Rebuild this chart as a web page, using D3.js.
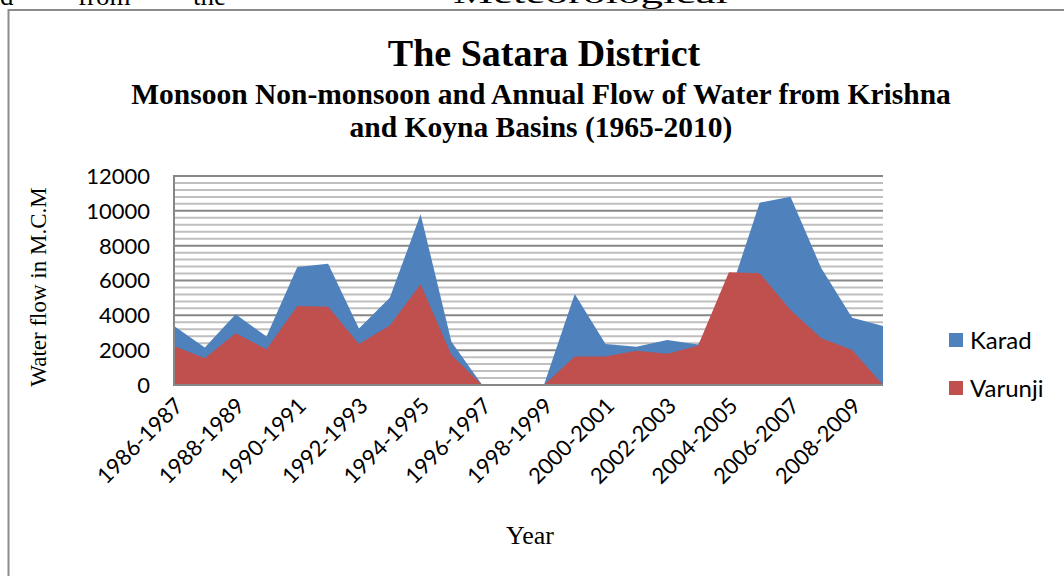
<!DOCTYPE html>
<html>
<head>
<meta charset="utf-8">
<script src="https://cdn.jsdelivr.net/npm/d3@7"></script>
<style>
  body { margin: 0; background: #fff; }
  svg { display: block; }
  .tick-lbl { font-family: Lato, 'Open Sans', sans-serif; font-size: 22px; fill: #000; }
  .serif { font-family: 'Liberation Serif', 'Times New Roman', serif; fill: #000; }
</style>
</head>
<body>
<div id="chart"></div>
<script>
// categories (hydrological years)
const years = ['1986-1987', '1987-1988', '1988-1989', '1989-1990', '1990-1991', '1991-1992',
  '1992-1993', '1993-1994', '1994-1995', '1995-1996', '1996-1997', '1997-1998',
  '1998-1999', '1999-2000', '2000-2001', '2001-2002', '2002-2003', '2003-2004',
  '2004-2005', '2005-2006', '2006-2007', '2007-2008', '2008-2009', '2009-2010']

// water flow in M.C.M
const karad = [3390, 2160, 4060, 2780, 6770, 6960, 3250, 5010, 9810, 2490, 0, 0,
  0, 5220, 2350, 2200, 2580, 2330, 5100, 10470, 10810, 6700, 3860, 3390]
const varunji = [2240, 1530, 2970, 2050, 4530, 4500, 2350, 3410, 5780, 1720, 0, 0,
  0, 1630, 1630, 1970, 1800, 2260, 6470, 6410, 4300, 2680, 2010, 0]

const yTicks = [0, 2000, 4000, 6000, 8000, 10000, 12000]
const seriesNames = ['Karad', 'Varunji']
const colors = ['#4F81BD', '#C0504D']

const width = 1064
const height = 576
const plot = {left: 174, right: 883, top: 176, bottom: 385}

let svg = d3.select('#chart').append('svg')
  .attr('width', width)
  .attr('height', height)

// bit of the document text above the chart, cut by the page edge
let docWords = [['d', 0, 0, 5], ['from', 78, 0, 5], ['the', 193, 0, 5], ['Meteorological', 453, 275, 3]]
svg.selectAll('.doc').data(docWords).enter().append('text')
  .attr('class', 'serif doc')
  .attr('x', d => d[1])
  .attr('y', d => d[3])
  .attr('textLength', d => d[2] || null)
  .attr('lengthAdjust', 'spacingAndGlyphs')
  .style('font-size', '27px')
  .text(d => d[0])

// chart frame
svg.append('rect')
  .attr('x', 8.5).attr('y', 10)
  .attr('width', width + 10).attr('height', height + 10)
  .attr('fill', 'none')
  .attr('stroke', '#8c8c8c')
  .attr('stroke-width', 2)

// titles
svg.append('text').attr('class', 'serif')
  .attr('x', 544).attr('y', 66)
  .attr('text-anchor', 'middle')
  .style('font-size', '38px').style('font-weight', 'bold')
  .text('The Satara District')
let sub = ['Monsoon Non-monsoon and Annual Flow of Water from Krishna', 'and Koyna Basins (1965-2010)']
svg.selectAll('.sub').data(sub).enter().append('text')
  .attr('class', 'serif sub')
  .attr('x', 541)
  .attr('y', (d, i) => 104 + i * 33)
  .attr('text-anchor', 'middle')
  .style('font-size', '29.5px').style('font-weight', 'bold')
  .text(d => d)

let x = d3.scalePoint().domain(years).range([plot.left, plot.right])
let y = d3.scaleLinear().domain([0, 12000]).range([plot.bottom, plot.top])

// gridlines: minor every 400, major every 2000
let minor = d3.range(400, 12001, 400).filter(v => v % 2000 !== 0)
svg.append('g').selectAll('line').data(minor).enter().append('line')
  .attr('x1', plot.left).attr('x2', plot.right)
  .attr('y1', d => y(d)).attr('y2', d => y(d))
  .attr('stroke', '#bfbfbf').attr('stroke-width', 2)
svg.append('g').selectAll('line').data(yTicks.slice(1)).enter().append('line')
  .attr('x1', plot.left).attr('x2', plot.right)
  .attr('y1', d => y(d)).attr('y2', d => y(d))
  .attr('stroke', '#878787').attr('stroke-width', 2)

// areas (overlapping, Varunji in front)
let area = d3.area()
  .x((d, i) => x(years[i]))
  .y0(y(0))
  .y1(d => y(d))
let series = [karad, varunji]
svg.append('g').selectAll('path').data(series).enter().append('path')
  .attr('d', area)
  .attr('fill', (d, i) => colors[i])

// axis lines
svg.append('line')
  .attr('x1', plot.left).attr('x2', plot.left)
  .attr('y1', plot.top - 1).attr('y2', plot.bottom + 1)
  .attr('stroke', '#878787').attr('stroke-width', 2)
svg.append('line')
  .attr('x1', plot.left).attr('x2', plot.right)
  .attr('y1', plot.bottom).attr('y2', plot.bottom)
  .attr('stroke', '#878787').attr('stroke-width', 2)

// y tick labels
svg.append('g').selectAll('text').data(yTicks).enter().append('text')
  .attr('class', 'tick-lbl')
  .attr('x', 150)
  .attr('y', d => y(d))
  .attr('dy', '0.36em')
  .attr('text-anchor', 'end')
  .text(d => d)

// x tick labels, every second year
let shown = years.filter((d, i) => i % 2 === 0)
svg.append('g').selectAll('text').data(shown).enter().append('text')
  .attr('class', 'tick-lbl')
  .attr('text-anchor', 'end')
  .attr('transform', d => `translate(${x(d) - 1},${396}) rotate(-45)`)
  .attr('dy', '0.72em')
  .text(d => d)

// axis titles
svg.append('text').attr('class', 'serif')
  .attr('transform', 'translate(46,287) rotate(-90)')
  .attr('text-anchor', 'middle')
  .style('font-size', '23px')
  .text('Water flow in M.C.M')
svg.append('text').attr('class', 'serif')
  .attr('x', 530).attr('y', 544)
  .attr('text-anchor', 'middle')
  .style('font-size', '26px')
  .text('Year')

// legend
let legend = svg.append('g').selectAll('g').data(seriesNames).enter().append('g')
  .attr('transform', (d, i) => `translate(949,${333 + i * 48})`)
legend.append('rect')
  .attr('width', 14).attr('height', 14)
  .attr('fill', (d, i) => colors[i])
legend.append('text')
  .attr('class', 'tick-lbl')
  .attr('x', 21).attr('y', 7)
  .attr('dy', '0.36em')
  .style('font-size', '24px')
  .text(d => d)
</script>
</body>
</html>
